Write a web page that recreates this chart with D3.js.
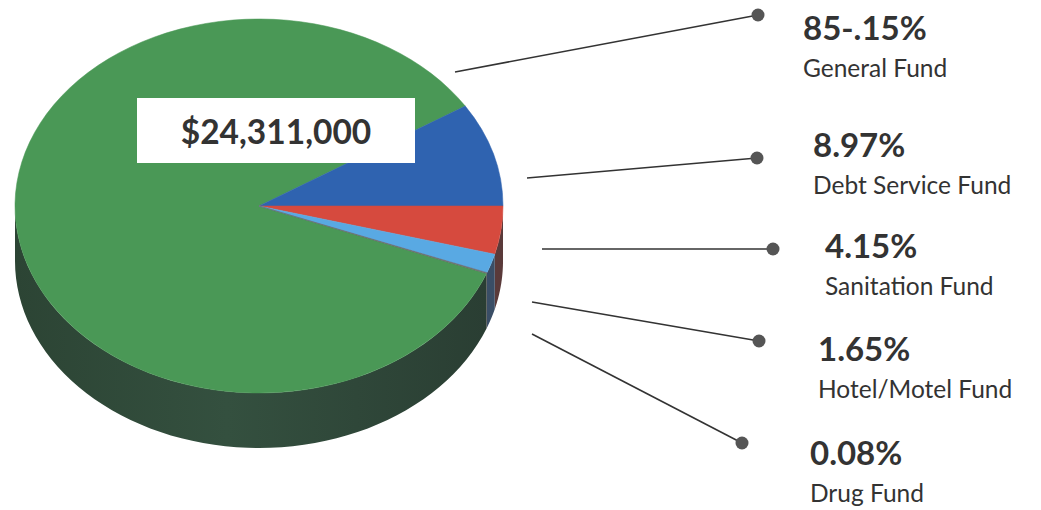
<!DOCTYPE html>
<html lang="en">
<head>
<meta charset="utf-8">
<title>Fund pie</title>
<script src="https://cdn.jsdelivr.net/npm/d3@7"></script>
<style>
  body { margin: 0; background: #fff; }
  svg { display: block; }
</style>
</head>
<body>
<div id="chart"></div>
<script>
// data, in label order
var funds = ["General Fund", "Debt Service Fund", "Sanitation Fund", "Hotel/Motel Fund", "Drug Fund"];
var shares = [85.15, 8.97, 4.15, 1.65, 0.08];
var shareLabels = ["85-.15%", "8.97%", "4.15%", "1.65%", "0.08%"];
var totalLabel = "$24,311,000";

var topColors  = ["#4a9856", "#2f63b0", "#d64a3e", "#59a9e3", "#6a6a6a"];
var sideColors = ["#30493a", "#2a3d5c", "#5a3a3a", "#3a4e66", "#333333"];

// label layout: line start, dot, text origin
var layout = [
  {x1: 455, y1: 72,  dx: 758, dy: 15,  tx: 803, ty: 40},
  {x1: 527, y1: 178, dx: 757, dy: 158, tx: 813, ty: 157},
  {x1: 542, y1: 249, dx: 773, dy: 249, tx: 825, ty: 258},
  {x1: 532, y1: 302, dx: 759, dy: 341, tx: 818, ty: 361},
  {x1: 532, y1: 334, dx: 742, dy: 443, tx: 810, ty: 465}
];

var W = 1041, H = 510;
var cx = 259, cy = 206, rx = 244, ry = 187, depth = 55;

var svg = d3.select("#chart").append("svg")
    .attr("width", W).attr("height", H);

var defs = svg.append("defs");
var grad = defs.append("linearGradient").attr("id", "sideGrad")
    .attr("x1", "0%").attr("x2", "100%").attr("y1", "0%").attr("y2", "0%");
grad.append("stop").attr("offset", "0%").attr("stop-color", "#2c4434");
grad.append("stop").attr("offset", "45%").attr("stop-color", "#34503f");
grad.append("stop").attr("offset", "100%").attr("stop-color", "#2a3e33");

var total = d3.sum(shares);
// sanitation starts at 3 o'clock
var start = Math.PI / 2 - (shares[0] + shares[1]) / total * 2 * Math.PI;

var pie = d3.pie().sort(null).value(function(d) { return d; })
    .startAngle(start).endAngle(start + 2 * Math.PI);
var arcs = pie(shares);

// d3 angle (0 at 12 o'clock, clockwise) -> point on ellipse
function pt(a, dy) {
  return [cx + rx * Math.sin(a), cy - ry * Math.cos(a) + (dy || 0)];
}

// side walls: only the front half (d3 angles pi/2 .. 3pi/2) is visible
var sides = svg.append("g");
arcs.forEach(function(d, i) {
  var segs = [];
  [0, 2 * Math.PI, -2 * Math.PI].forEach(function(k) {
    var a0 = Math.max(d.startAngle, Math.PI / 2 + k);
    var a1 = Math.min(d.endAngle, 3 * Math.PI / 2 + k);
    if (a1 > a0) segs.push([a0, a1]);
  });
  segs.forEach(function(s) {
    var n = 60, top = [], bot = [];
    for (var j = 0; j <= n; j++) {
      var a = s[0] + (s[1] - s[0]) * j / n;
      top.push(pt(a, 0));
      bot.push(pt(a, depth));
    }
    var poly = top.concat(bot.reverse());
    sides.append("path")
      .attr("d", d3.line()(poly) + "Z")
      .attr("fill", i == 0 ? "url(#sideGrad)" : sideColors[i]);
  });
});

// top face
var arc = d3.arc().innerRadius(0).outerRadius(rx);
svg.append("g")
    .attr("transform", "translate(" + cx + "," + cy + ") scale(1," + (ry / rx) + ")")
  .selectAll("path")
  .data(arcs)
  .enter().append("path")
    .attr("d", arc)
    .attr("fill", function(d, i) { return topColors[i]; })
    .attr("stroke", function(d, i) { return topColors[i]; })
    .attr("stroke-width", 0.6);

// total box
svg.append("rect")
    .attr("x", 137).attr("y", 98).attr("width", 278).attr("height", 65)
    .attr("fill", "#fff");
svg.append("text")
    .attr("x", 276).attr("y", 144)
    .attr("text-anchor", "middle")
    .attr("font-family", "Lato, 'Open Sans', sans-serif")
    .attr("font-weight", "bold")
    .attr("font-size", "33.5px")
    .attr("fill", "#333")
    .text(totalLabel);

// leader lines + labels
var lab = svg.append("g");
layout.forEach(function(p, i) {
  lab.append("line")
    .attr("x1", p.x1).attr("y1", p.y1)
    .attr("x2", p.dx).attr("y2", p.dy)
    .attr("stroke", "#333").attr("stroke-width", 1.6);
  lab.append("circle")
    .attr("cx", p.dx).attr("cy", p.dy).attr("r", 6.5)
    .attr("fill", "#555");
  lab.append("text")
    .attr("x", p.tx).attr("y", p.ty)
    .attr("font-family", "Lato, 'Open Sans', sans-serif")
    .attr("font-weight", "bold")
    .attr("font-size", "33px")
    .attr("fill", "#333")
    .text(shareLabels[i]);
  lab.append("text")
    .attr("x", p.tx).attr("y", p.ty + 37)
    .attr("font-family", "Lato, 'Open Sans', sans-serif")
    .attr("font-size", "24.5px")
    .attr("fill", "#333")
    .text(funds[i]);
});
</script>
</body>
</html>
